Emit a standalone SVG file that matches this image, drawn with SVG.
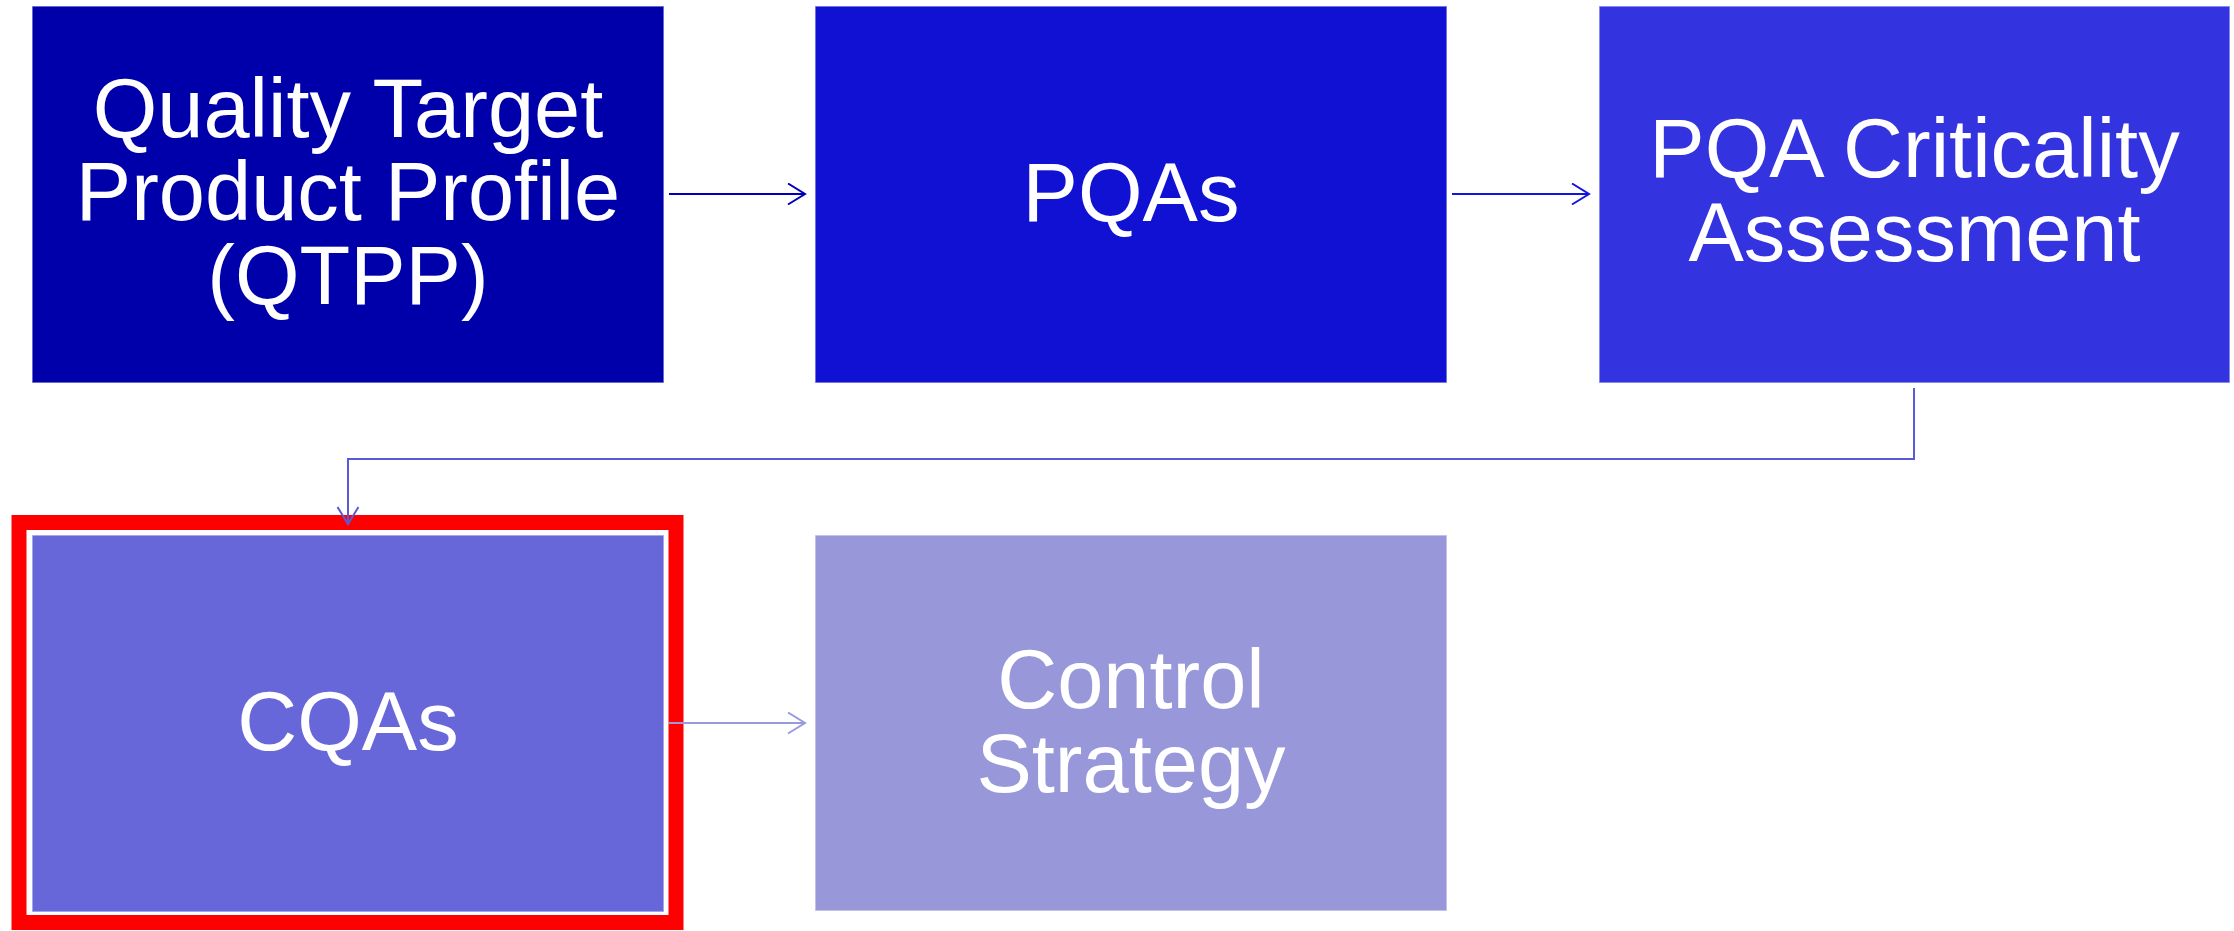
<svg xmlns="http://www.w3.org/2000/svg" width="2234" height="931" viewBox="0 0 2234 931">
  <style>
    .box { stroke: #ffffff; stroke-opacity: 0.55; stroke-width: 1.5; }
    .label { font-family: "Liberation Sans", Arial, sans-serif; font-size: 83px; fill: #ffffff; text-anchor: middle; }
    .conn { fill: none; stroke-width: 2; }
  </style>
  <defs>
    <marker id="head1" markerUnits="userSpaceOnUse" markerWidth="22" markerHeight="26" refX="18" refY="11" orient="auto">
      <path d="M1,0.5 L18,11 L1,21.5" fill="none" stroke="#0000b8" stroke-width="2"/>
    </marker>
    <marker id="head2" markerUnits="userSpaceOnUse" markerWidth="22" markerHeight="26" refX="18" refY="11" orient="auto">
      <path d="M1,0.5 L18,11 L1,21.5" fill="none" stroke="#1414e0" stroke-width="2"/>
    </marker>
    <marker id="head3" markerUnits="userSpaceOnUse" markerWidth="22" markerHeight="26" refX="18" refY="11" orient="auto">
      <path d="M1,0.5 L18,11 L1,21.5" fill="none" stroke="#5a5ad8" stroke-width="2"/>
    </marker>
    <marker id="head4" markerUnits="userSpaceOnUse" markerWidth="22" markerHeight="26" refX="18" refY="11" orient="auto">
      <path d="M1,0.5 L18,11 L1,21.5" fill="none" stroke="#9a9ade" stroke-width="2"/>
    </marker>
  </defs>

  <rect width="2234" height="931" fill="#ffffff"/>

  <!-- first row -->
  <g id="qtpp">
    <rect class="box" x="32" y="6" width="632" height="377" fill="#0000aa"/>
    <text class="label" x="348" y="137">Quality Target</text>
    <text class="label" x="348" y="220">Product Profile</text>
    <text class="label" x="348" y="304">(QTPP)</text>
  </g>

  <g id="pqas">
    <rect class="box" x="815" y="6" width="632" height="377" fill="#1111d4"/>
    <text class="label" x="1131" y="221">PQAs</text>
  </g>

  <g id="pqa-criticality">
    <rect class="box" x="1599" y="6" width="631" height="377" fill="#3333df"/>
    <text class="label" x="1914.5" y="177">PQA Criticality</text>
    <text class="label" x="1914.5" y="261">Assessment</text>
  </g>

  <!-- second row -->
  <g id="cqas">
    <rect x="19" y="522.5" width="657" height="400" fill="none" stroke="#ff0000" stroke-width="15"/>
    <rect class="box" x="32" y="535" width="632" height="377" fill="#6767da"/>
    <text class="label" x="348" y="750">CQAs</text>
  </g>

  <g id="control-strategy">
    <rect class="box" x="815" y="535" width="632" height="376" fill="#9797d9"/>
    <text class="label" x="1131" y="708">Control</text>
    <text class="label" x="1131" y="792">Strategy</text>
  </g>

  <!-- connectors -->
  <g id="connectors">
    <path class="conn" d="M669,194 L805,194" stroke="#0000b8" marker-end="url(#head1)"/>
    <path class="conn" d="M1452,194 L1589,194" stroke="#1414e0" marker-end="url(#head2)"/>
    <path class="conn" d="M1914,388 L1914,459 L348,459 L348,524" stroke="#5a5ad8" marker-end="url(#head3)"/>
    <path class="conn" d="M669,723 L805,723" stroke="#9a9ade" marker-end="url(#head4)"/>
  </g>
</svg>
